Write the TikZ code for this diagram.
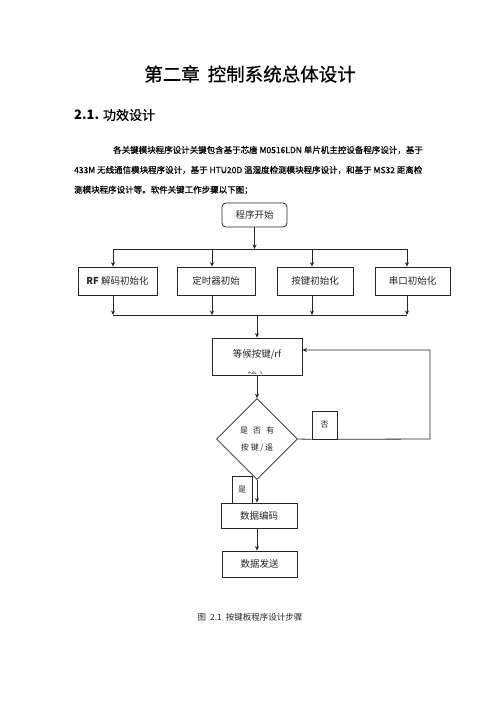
\documentclass[tikz,border=0pt]{standalone}
\usepackage{fontspec}
\setmainfont{Noto Sans CJK SC}
\newfontfamily\heavy{Noto Sans CJK SC}[FakeBold=0.6]
\usetikzlibrary{shapes.geometric,arrows.meta}
\tikzset{
  box/.style={draw=black!85, line width=0.8pt, rectangle, inner sep=0pt, text=black!85, font=\fontsize{9.5}{11}\selectfont},
  rbox/.style={box, rounded corners=4pt},
  lbl/.style={draw=black!85, line width=0.6pt, rectangle, inner sep=0pt, fill=white, text=black!85, font=\fontsize{8}{9}\selectfont},
  dia/.style={draw=black!85, line width=0.7pt, diamond, inner sep=0pt, minimum width=81pt, minimum height=81pt, text=black!85, font=\fontsize{8}{9}\selectfont, align=center},
  arr/.style={draw=black!85, line width=0.8pt, -{Stealth[length=4.5pt,width=4pt]}},
  ln/.style={draw=black!85, line width=0.8pt},
  para/.style={anchor=west, inner sep=0pt, text=black, font=\heavy\fontsize{8.5}{10}\selectfont}
}
\begin{document}
\begin{tikzpicture}[x=1pt,y=-1pt]
\useasboundingbox[fill=white] (0,0) rectangle (500,707);
% header text
\node[inner sep=0pt, text=black, font=\heavy\fontsize{18.5}{20}\selectfont] (title) at (250,74) {第二章\hspace{8pt}控制系统总体设计};
\node[anchor=west, inner sep=0pt, text=black, font=\fontsize{13}{15}\selectfont] (sec) at (74,115) {\textbf{2.1.} {\heavy 功效设计}};
\node[para] (p1) at (113,150) {各关键模块程序设计关键包含基于芯唐 M0516LDN 单片机主控设备程序设计，基于};
\node[para] (p2) at (74,170) {433M 无线通信模块程序设计，基于 HTU20D 温湿度检测模块程序设计，和基于 MS32 距离检};
\node[para] (p3) at (74,190) {测模块程序设计等。软件关键工作步骤以下图；};
% flowchart nodes
\node[rbox, minimum width=65pt, minimum height=24pt] (start) at (254.5,215) {程序开始};
\node[box, minimum width=79pt, minimum height=28pt] (b1) at (117.5,281) {\textbf{RF} 解码初始化};
\node[box, minimum width=78pt, minimum height=28pt] (b2) at (216,281) {定时器初始};
\node[box, minimum width=76pt, minimum height=28pt] (b3) at (315,281) {按键初始化};
\node[box, minimum width=75pt, minimum height=28pt] (b4) at (412.5,281) {串口初始化};
\coordinate (busT) at (254.5,249);
\coordinate (busTL) at (113,249);
\coordinate (busTR) at (407,249);
\coordinate (busBL) at (113,315);
\coordinate (busBR) at (407,315);
\coordinate (busBM) at (257,315);
\node[box, minimum width=90pt, minimum height=37pt] (wait) at (257,356.5) {};
\node[inner sep=0pt, text=black!85, font=\fontsize{9.5}{11}\selectfont] (waitt) at (257,354) {等候按键/rf};
\begin{scope}
\clip (212.5,338.5) rectangle (301.5,373.5);
\node[inner sep=0pt, text=black!60, font=\fontsize{9.5}{11}\selectfont] (waitt2) at (257,376) {输入};
\end{scope}
\node[dia] (d) at (257,439) {是\hspace{5pt}否\hspace{5pt}有\\[8pt]按\hspace{2pt}键\hspace{1.5pt}/\hspace{1.5pt}遥};
\node[box, minimum width=76pt, minimum height=25pt] (e1) at (259,515.5) {数据编码};
\node[box, minimum width=75pt, minimum height=26pt] (e2) at (259.5,564) {数据发送};
\coordinate (loopA) at (430,439);
\coordinate (loopB) at (430,350);
% connectors
\draw[arr] (start.south) -- (busT);
\draw[ln] (busTL) -- (busTR);
\draw[arr] (busTL) -- (busTL |- b1.north);
\draw[arr] (busTL -| b2.north) ++(-4,0) coordinate (c2) -- (c2 |- b2.north);
\draw[arr] (busTL -| b3.north) ++(-3,0) coordinate (c3) -- (c3 |- b3.north);
\draw[arr] (busTR) -- (busTR |- b4.north);
\draw[arr] (busBL |- b1.south) -- (busBL);
\draw[arr] (c2 |- b2.south) -- (c2 |- busBL);
\draw[arr] (c3 |- b3.south) -- (c3 |- busBL);
\draw[arr] (busBR |- b4.south) -- (busBR);
\draw[ln] (busBL) -- (busBR);
\draw[arr] (busBM) -- (wait.north);
\draw[arr] (wait.south) -- (d.north);
\node[lbl, minimum width=25pt, minimum height=28pt] (no) at (324.5,425) {否};
\draw[ln] (d.east) -- (no.south west);
\draw[arr] (no.south east) -- (loopA) -- (loopB) -- (wait.east |- loopB);
\draw[arr] (d.south) -- (d.south |- e1.north);
\node[lbl, minimum width=20pt, minimum height=27pt] (yes) at (242,489.5) {是};
\draw[arr] (e1.south -| d.south) -- (e2.north -| d.south);
% caption
\node[inner sep=0pt, text=black!85, font=\fontsize{8.5}{10}\selectfont] (cap) at (250,617) {图\hspace{4pt}2.1\hspace{4pt}按键板程序设计步骤};
\end{tikzpicture}
\end{document}
